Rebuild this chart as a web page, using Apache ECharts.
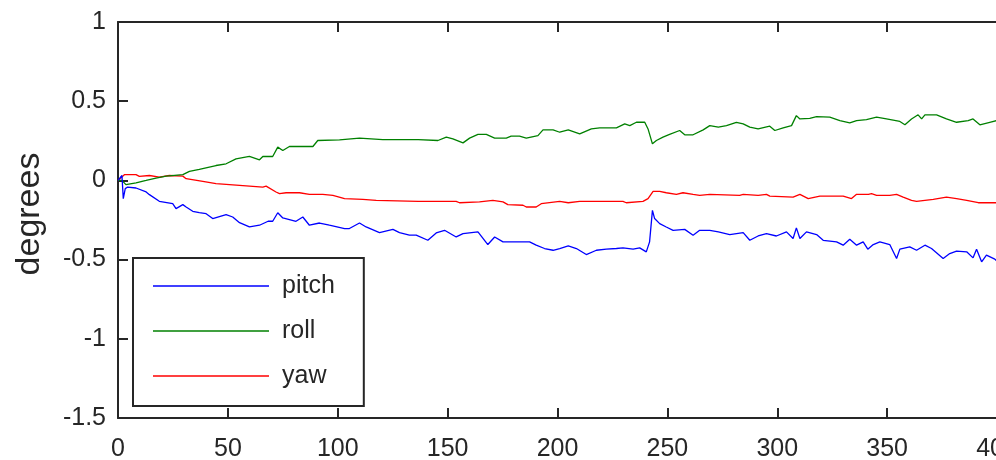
<!DOCTYPE html>
<html>
<head>
<meta charset="utf-8">
<script src="https://cdn.jsdelivr.net/npm/echarts@6/dist/echarts.min.js"></script>
<style>html,body{margin:0;padding:0;background:#fff;}#c{width:996px;height:460px;}</style>
</head>
<body>
<div id="c"></div>
<script>
const seriesNames = ['pitch', 'roll', 'yaw'];
const xTicks = { min: 0, max: 400, interval: 50 };
const yTicks = { min: -1.5, max: 1, interval: 0.5 };

const pitch = [[0,0],[1.8,0.031],[2.4,-0.115],[3.3,-0.052],[4.4,-0.042],[8.2,-0.048],[12.8,-0.073],[14.3,-0.090],[18.8,-0.132],[24.9,-0.147],[26.4,-0.178],[29.5,-0.153],[31.0,-0.168],[34.0,-0.195],[37.0,-0.204],[40.1,-0.210],[43.1,-0.241],[49.2,-0.216],[52.2,-0.231],[55.3,-0.267],[59.8,-0.294],[64.4,-0.283],[68.3,-0.258],[70.4,-0.258],[72.7,-0.204],[75.0,-0.237],[81.0,-0.258],[84.1,-0.231],[87.1,-0.283],[91.7,-0.269],[96.2,-0.283],[103.1,-0.304],[105.3,-0.304],[109.9,-0.269],[112.9,-0.294],[119.0,-0.330],[125.1,-0.309],[128.1,-0.330],[132.6,-0.346],[135.7,-0.346],[141.0,-0.378],[144.8,-0.332],[148.6,-0.315],[153.9,-0.357],[157.0,-0.336],[163.8,-0.325],[168.3,-0.405],[171.4,-0.357],[175.2,-0.388],[181.2,-0.388],[187.3,-0.388],[190.3,-0.409],[194.1,-0.430],[198.0,-0.441],[201.0,-0.430],[204.9,-0.414],[208.6,-0.430],[213.1,-0.468],[217.7,-0.441],[222.2,-0.434],[226.8,-0.430],[229.8,-0.426],[234.4,-0.434],[237.4,-0.426],[240.4,-0.451],[241.9,-0.388],[243.2,-0.189],[244.2,-0.241],[246.5,-0.273],[249.5,-0.294],[252.6,-0.315],[257.9,-0.309],[261.7,-0.346],[264.7,-0.315],[269.3,-0.315],[273.2,-0.325],[278.4,-0.342],[284.5,-0.330],[287.5,-0.378],[291.3,-0.351],[295.1,-0.336],[299.6,-0.351],[304.2,-0.325],[307.2,-0.367],[308.7,-0.300],[310.3,-0.367],[313.3,-0.325],[317.9,-0.342],[320.9,-0.378],[327.0,-0.388],[330.0,-0.409],[333.0,-0.372],[336.1,-0.409],[339.1,-0.388],[341.2,-0.434],[343.7,-0.405],[346.7,-0.388],[351.2,-0.405],[354.3,-0.493],[355.8,-0.434],[360.3,-0.420],[363.4,-0.441],[367.2,-0.409],[370.2,-0.430],[375.5,-0.493],[378.5,-0.462],[381.6,-0.447],[386.2,-0.451],[389.1,-0.489],[390.7,-0.434],[393.0,-0.514],[395.2,-0.472],[399.0,-0.497],[400,-0.510]];

const roll = [[0,0],[1.8,0],[3.6,-0.027],[8.2,-0.015],[12.8,0],[17.3,0.015],[21.9,0.027],[29.5,0.036],[32.5,0.057],[37.0,0.069],[44.6,0.094],[49.2,0.105],[53.7,0.136],[59.8,0.151],[64.4,0.130],[65.9,0.151],[70.4,0.151],[72.7,0.210],[75.0,0.189],[78.0,0.214],[88.7,0.214],[90.9,0.252],[100.8,0.256],[109.9,0.267],[120.5,0.258],[136.6,0.258],[145.6,0.252],[149.4,0.273],[152.4,0.262],[157.0,0.237],[160.0,0.267],[163.8,0.290],[167.6,0.290],[171.4,0.267],[176.7,0.267],[178.9,0.279],[182.7,0.279],[185.8,0.267],[191.1,0.283],[193.4,0.319],[198.0,0.319],[201.0,0.304],[204.9,0.319],[210.1,0.294],[215.4,0.325],[219.2,0.332],[226.8,0.332],[230.6,0.357],[232.9,0.346],[235.9,0.367],[239.7,0.367],[241.2,0.325],[243.2,0.231],[245.0,0.252],[248.0,0.273],[251.0,0.290],[255.6,0.315],[257.9,0.288],[261.7,0.288],[266.3,0.319],[269.3,0.346],[273.2,0.336],[276.9,0.346],[281.4,0.367],[284.5,0.357],[287.5,0.336],[291.3,0.325],[296.6,0.342],[298.9,0.315],[302.7,0.332],[306.5,0.346],[308.7,0.409],[310.3,0.388],[314.8,0.392],[317.9,0.403],[323.9,0.399],[328.5,0.378],[333.0,0.363],[336.1,0.378],[340.6,0.384],[345.2,0.399],[349.7,0.388],[355.8,0.372],[358.1,0.351],[361.1,0.388],[364.1,0.414],[365.7,0.388],[367.2,0.414],[372.5,0.414],[377.0,0.388],[381.6,0.367],[386.9,0.378],[389.1,0.388],[392.2,0.351],[396.7,0.367],[400,0.378]];

const yaw = [[0,0],[2.9,0.036],[8.2,0.036],[9.7,0.025],[14.3,0.031],[18.8,0.021],[23.4,0.031],[29.5,0.027],[31.0,0.011],[31.7,0],[38.6,-0.006],[44.6,-0.021],[55.3,-0.031],[65.9,-0.042],[67.4,-0.036],[71.9,-0.073],[73.5,-0.084],[76.5,-0.078],[82.6,-0.078],[87.1,-0.088],[93.2,-0.088],[97.8,-0.094],[103.1,-0.115],[111.4,-0.120],[117.5,-0.126],[136.6,-0.132],[153.9,-0.132],[155.4,-0.141],[164.5,-0.136],[170.6,-0.126],[175.2,-0.136],[177.4,-0.153],[184.3,-0.157],[185.8,-0.168],[190.3,-0.168],[192.6,-0.147],[201.0,-0.132],[204.9,-0.141],[210.1,-0.132],[219.2,-0.132],[229.8,-0.132],[231.3,-0.141],[238.9,-0.132],[241.2,-0.115],[243.5,-0.069],[246.5,-0.069],[249.5,-0.078],[254.1,-0.088],[257.1,-0.078],[261.7,-0.088],[264.7,-0.094],[269.3,-0.088],[282.9,-0.094],[284.5,-0.088],[291.3,-0.094],[295.1,-0.088],[296.6,-0.099],[307.2,-0.105],[310.3,-0.088],[314.1,-0.115],[319.4,-0.099],[330.0,-0.099],[333.8,-0.115],[336.1,-0.088],[341.5,-0.088],[342.9,-0.084],[345.2,-0.094],[351.2,-0.094],[354.3,-0.088],[357.3,-0.105],[361.1,-0.126],[363.4,-0.132],[371.0,-0.120],[377.0,-0.105],[381.6,-0.115],[386.2,-0.126],[391.5,-0.141],[400,-0.141]];

const seriesData = [pitch, roll, yaw];
const seriesColors = ['#0000ff', '#008000', '#ff0000'];

const FONT = "'Liberation Sans', Arial, sans-serif";
const axisColor = '#262626';

const chart = echarts.init(document.getElementById('c'), null, { renderer: 'canvas' });
const baseX = {
  type: 'value', min: xTicks.min, max: xTicks.max, interval: xTicks.interval,
  axisLine: { show: true, onZero: false, lineStyle: { color: axisColor, width: 2 } },
  axisTick: { show: true, inside: true, length: 10, lineStyle: { color: axisColor, width: 2 } },
  splitLine: { show: false }
};
const baseY = {
  type: 'value', min: yTicks.min, max: yTicks.max, interval: yTicks.interval,
  axisLine: { show: true, onZero: false, lineStyle: { color: axisColor, width: 2 } },
  axisTick: { show: true, inside: true, length: 10, lineStyle: { color: axisColor, width: 2 } },
  splitLine: { show: false }
};
chart.setOption({
  animation: false,
  backgroundColor: '#ffffff',
  grid: { left: 118, top: 22, width: 879, height: 396, containLabel: false, outerBoundsMode: 'none' },
  xAxis: [
    Object.assign({}, baseX, { position: 'bottom',
      axisLabel: { show: true, margin: 19, color: axisColor, fontFamily: FONT, fontSize: 25, hideOverlap: false } }),
    Object.assign({}, baseX, { position: 'top', axisLabel: { show: false } })
  ],
  yAxis: [
    Object.assign({}, baseY, { position: 'left', name: 'degrees', nameLocation: 'middle', nameGap: 71,
      nameTextStyle: { color: axisColor, fontFamily: FONT, fontSize: 34, padding: [0, 0, 0, 12] },
      axisLabel: { show: true, margin: 12, color: axisColor, fontFamily: FONT, fontSize: 25 } }),
    Object.assign({}, baseY, { position: 'right', axisLabel: { show: false }, axisTick: { show: false } })
  ],
  legend: {
    show: true, orient: 'vertical', left: 133, top: 258,
    data: seriesNames.map((n, i) => ({ name: n, icon: 'rect', itemStyle: { color: seriesColors[i] } })),
    backgroundColor: '#ffffff', borderColor: axisColor, borderWidth: 2,
    padding: [13, 29, 15, 20],
    itemWidth: 116, itemHeight: 1.6, itemGap: 15,
    textStyle: { color: axisColor, fontFamily: FONT, fontSize: 25, lineHeight: 30, padding: [0, 0, 0, 8] }
  },
  series: seriesNames.map((n, i) => ({
    name: n, type: 'line', data: seriesData[i], symbol: 'none', showSymbol: false,
    lineStyle: { color: seriesColors[i], width: 1.3 }, itemStyle: { color: seriesColors[i] },
    xAxisIndex: 0, yAxisIndex: 0, z: 3 - i
  }))
});
</script>
</body>
</html>
